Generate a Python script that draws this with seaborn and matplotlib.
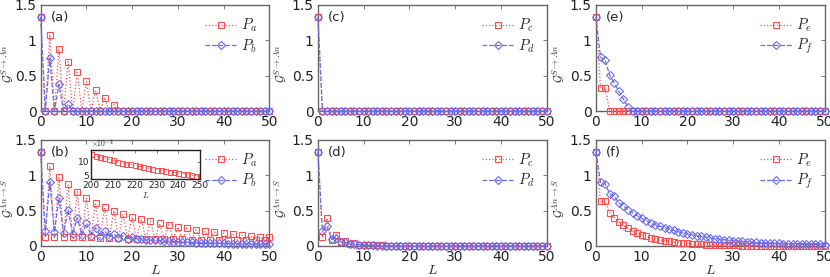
import numpy as np
import pandas as pd
import matplotlib
matplotlib.use("Agg")
import matplotlib.pyplot as plt
import seaborn as sns

L = list(range(51))

# panel (a)  S -> An
a_Pa = [1.33, 0, 1.08, 0, 0.88, 0, 0.70, 0, 0.55, 0, 0.42, 0, 0.30, 0, 0.19, 0, 0.09] + [0] * 34
a_Pb = [1.33, 0, 0.75, 0, 0.38, 0, 0.10] + [0] * 44

# panel (b)  An -> S
b_Pa_even = [1.33, 1.13, 0.98, 0.87, 0.77, 0.68, 0.61, 0.55, 0.50, 0.45, 0.41, 0.38, 0.35,
             0.32, 0.30, 0.27, 0.25, 0.23, 0.21, 0.20, 0.18, 0.17, 0.15, 0.14, 0.13, 0.12]
b_Pa_odd = [0.12, 0.12, 0.12, 0.12, 0.12, 0.12, 0.115, 0.11, 0.11, 0.105, 0.10, 0.10, 0.10,
            0.095, 0.095, 0.095, 0.09, 0.09, 0.09, 0.09, 0.085, 0.085, 0.085, 0.08, 0.08]
b_Pb_even = [1.33, 0.90, 0.68, 0.51, 0.40, 0.32, 0.26, 0.21, 0.17, 0.145, 0.12, 0.105, 0.09,
             0.08, 0.07, 0.062, 0.055, 0.049, 0.044, 0.04, 0.036, 0.032, 0.029, 0.026, 0.024, 0.022]
b_Pb_odd = [0.21, 0.20, 0.18, 0.165, 0.155, 0.145, 0.135, 0.125, 0.115, 0.105, 0.095, 0.085,
            0.078, 0.07, 0.063, 0.057, 0.051, 0.046, 0.042, 0.038, 0.034, 0.031, 0.028, 0.025, 0.023]

# inset of (b), units of 1e-4
inset_L = list(range(200, 251, 2))
inset_Pa = [12.5, 12.0, 11.6, 11.2, 10.8, 10.4, 10.0, 9.6, 9.3, 9.0, 8.7, 8.4, 8.1,
            7.8, 7.5, 7.2, 7.0, 6.7, 6.5, 6.2, 6.0, 5.8, 5.5, 5.3, 5.1, 4.9]

# panel (c)
c_Pc = [1.33] + [0] * 50
c_Pd = [1.33] + [0] * 50

# panel (d)
d_Pc = [1.33, 0.12, 0.39, 0.09, 0.155, 0.05, 0.07, 0.03, 0.04, 0.02, 0.02, 0.012, 0.012,
        0.008, 0.008, 0.005, 0.005, 0.003, 0.003, 0.002] + [0.001] * 31
d_Pd = [1.33, 0.21, 0.28, 0.095, 0.11, 0.06, 0.05, 0.03, 0.025, 0.018, 0.014, 0.01, 0.008,
        0.006, 0.005, 0.004, 0.003, 0.002, 0.002, 0.001] + [0.001] * 31

# panel (e)
e_Pe = [1.33, 0.33, 0.32] + [0] * 48
e_Pf = [1.33, 0.76, 0.72, 0.51, 0.40, 0.28, 0.17, 0.06] + [0] * 43

# panel (f)
f_Pe = [1.33, 0.63, 0.63, 0.47, 0.40, 0.34, 0.29, 0.25, 0.21, 0.18, 0.155, 0.135, 0.115,
        0.10, 0.087, 0.075, 0.065, 0.056, 0.048, 0.042, 0.036, 0.031, 0.027, 0.023, 0.020,
        0.017, 0.015, 0.013, 0.011, 0.009, 0.008, 0.007, 0.006, 0.005, 0.004, 0.004, 0.003,
        0.003, 0.003, 0.002, 0.002, 0.002, 0.002, 0.002, 0.002, 0.001, 0.001, 0.001, 0.001,
        0.001, 0.001]
f_Pf = [1.33, 0.90, 0.88, 0.74, 0.70, 0.61, 0.57, 0.51, 0.47, 0.43, 0.39, 0.36, 0.33, 0.30,
        0.28, 0.26, 0.24, 0.22, 0.20, 0.185, 0.17, 0.16, 0.145, 0.135, 0.125, 0.115, 0.105,
        0.098, 0.09, 0.083, 0.077, 0.071, 0.066, 0.061, 0.057, 0.053, 0.049, 0.046, 0.043,
        0.04, 0.037, 0.035, 0.033, 0.031, 0.029, 0.027, 0.025, 0.024, 0.022, 0.021, 0.02]


def interleave(even, odd):
    out = []
    for i in range(len(even)):
        out.append(even[i])
        if i < len(odd):
            out.append(odd[i])
    return out


b_Pa = interleave(b_Pa_even, b_Pa_odd)
b_Pb = interleave(b_Pb_even, b_Pb_odd)

sns.set_style("white")
plt.rcParams["font.family"] = ["DejaVu Sans"]
plt.rcParams["mathtext.fontset"] = "cm"

RED = (1.0, 0.3, 0.3)
BLUE = (0.42, 0.42, 0.92)
SPINE = "#666666"

fig = plt.figure(figsize=(8.3, 2.77), dpi=100)

lefts = [0.049, 0.383, 0.718]
bottoms = [0.599, 0.112]
W, H = 0.2755, 0.383
label_x = [-0.11, -0.132, -0.13]

panels = [
    ("(a)", 0, 0, a_Pa, a_Pb, "a", "b"),
    ("(c)", 1, 0, c_Pc, c_Pd, "c", "d"),
    ("(e)", 2, 0, e_Pe, e_Pf, "e", "f"),
    ("(b)", 0, 1, b_Pa, b_Pb, "a", "b"),
    ("(d)", 1, 1, d_Pc, d_Pd, "c", "d"),
    ("(f)", 2, 1, f_Pe, f_Pf, "e", "f"),
]


def style_axes(ax, fs=10):
    for s in ax.spines.values():
        s.set_color(SPINE)
        s.set_linewidth(1.0)
    ax.tick_params(direction="in", top=True, right=True, length=3, width=0.6,
                   colors=SPINE, labelcolor="#222222", labelsize=fs, pad=3)


for label, col, row, y1, y2, n1, n2 in panels:
    ax = fig.add_axes([lefts[col], bottoms[row], W, H])
    df = pd.DataFrame({"L": L, "s1": y1, "s2": y2})
    sns.lineplot(data=df, x="L", y="s1", ax=ax, color=RED, linestyle=":", linewidth=0.9,
                 marker="s", markersize=4.2, markerfacecolor="none", markeredgecolor=RED,
                 markeredgewidth=0.8, label=f"$P_{n1}$", clip_on=False, zorder=3)
    sns.lineplot(data=df, x="L", y="s2", ax=ax, color=BLUE, linestyle="--", linewidth=0.9,
                 marker="D", markersize=3.6, markerfacecolor="none", markeredgecolor=BLUE,
                 markeredgewidth=0.8, label=f"$P_{n2}$", clip_on=False, zorder=3)
    ax.set_xlim(0, 50)
    ax.set_ylim(0, 1.5)
    ax.set_xticks([0, 10, 20, 30, 40, 50])
    ax.set_yticks([0, 0.5, 1, 1.5])
    ax.set_yticklabels(["0", "0.5", "1", "1.5"])
    style_axes(ax)
    if row == 0:
        ax.set_ylabel(r"$\mathcal{G}^{S\rightarrow An}$", fontsize=9, color="#333333")
        ax.set_xlabel("")
    else:
        ax.set_ylabel(r"$\mathcal{G}^{An\rightarrow S}$", fontsize=9, color="#333333")
        ax.set_xlabel("$L$", fontsize=10, labelpad=-1)
    ax.yaxis.set_label_coords(label_x[col], 0.45)
    ax.text(0.045, 0.88, label, transform=ax.transAxes, fontsize=9.5, va="center")
    ax.legend(loc="upper right", frameon=False, fontsize=10.5, handlelength=2.2,
              handletextpad=0.3, labelspacing=0.2, borderaxespad=0.4)

    if label == "(b)":
        ins = fig.add_axes([0.110, 0.355, 0.131, 0.103])
        idf = pd.DataFrame({"L": inset_L, "v": inset_Pa})
        sns.lineplot(data=idf, x="L", y="v", ax=ins, color=RED, linestyle=":", linewidth=0.8,
                     marker="s", markersize=3.6, markerfacecolor="none", markeredgecolor=RED,
                     markeredgewidth=0.7)
        ins.set_xlim(200, 250)
        ins.set_ylim(4, 14)
        ins.set_xticks([200, 210, 220, 230, 240, 250])
        ins.set_yticks([5, 10])
        style_axes(ins, fs=6.5)
        ins.tick_params(length=2, pad=1.5)
        for s in ins.spines.values():
            s.set_color("#222222")
        ins.set_xlabel("$L$", fontsize=6, labelpad=0)
        ins.set_ylabel("")
        ins.text(0.0, 1.01, r"$\times10^{-4}$", transform=ins.transAxes, fontsize=5.5,
                 va="bottom")

fig.savefig("out.png", dpi=100)
